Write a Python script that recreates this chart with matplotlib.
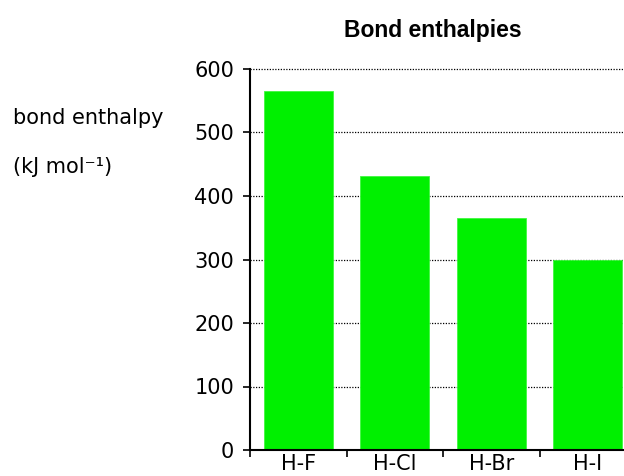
import matplotlib
matplotlib.use("Agg")
import matplotlib.pyplot as plt
from matplotlib.ticker import FixedLocator, NullFormatter

bonds = ["H-F", "H-Cl", "H-Br", "H-I"]
enthalpy = [565, 432, 366, 299]
y_ticks = [0, 100, 200, 300, 400, 500, 600]

plt.rcParams["font.family"] = ["DejaVu Sans"]

W, H = 624, 476
fig = plt.figure(figsize=(W / 100, H / 100), dpi=100)
ax = fig.add_axes([250 / W, 26 / H, 386 / W, 381 / H])

x = list(range(len(bonds)))
ax.bar(x, enthalpy, width=0.72, color="#00f000", edgecolor="#40f840",
       linewidth=0.6, zorder=2)

ax.set_xlim(-0.5, 3.5)
ax.set_ylim(0, 600)
ax.set_yticks(y_ticks)
ax.set_yticklabels([str(v) for v in y_ticks], fontsize=15)
for v in y_ticks[1:]:
    ax.axhline(v, color="black", linestyle=(0, (1, 1.2)), linewidth=0.9,
               zorder=1, clip_on=False)

ax.set_xticks(x)
ax.set_xticklabels(bonds, fontsize=15)
ax.tick_params(axis="x", which="major", length=0, pad=3)
ax.xaxis.set_minor_locator(FixedLocator([-0.5, 0.5, 1.5, 2.5]))
ax.xaxis.set_minor_formatter(NullFormatter())
ax.tick_params(axis="x", which="minor", length=5, width=1.2, direction="out")
ax.tick_params(axis="y", length=5, width=1.2, direction="out", pad=6.5)

for s in ("top", "right"):
    ax.spines[s].set_visible(False)
for s in ("left", "bottom"):
    ax.spines[s].set_linewidth(1.5)
    ax.spines[s].set_zorder(3)

fig.text(433 / W, 1 - 30 / H, "Bond enthalpies", ha="center", va="center",
         fontsize=16.5, fontweight="bold", family="Liberation Sans")
fig.text(13 / W, 1 - 118 / H, "bond enthalpy", ha="left", va="center",
         fontsize=15)
fig.text(13 / W, 1 - 167 / H, "(kJ mol\u207b\u00b9)", ha="left", va="center",
         fontsize=15)

fig.savefig("out.png", dpi=100)
